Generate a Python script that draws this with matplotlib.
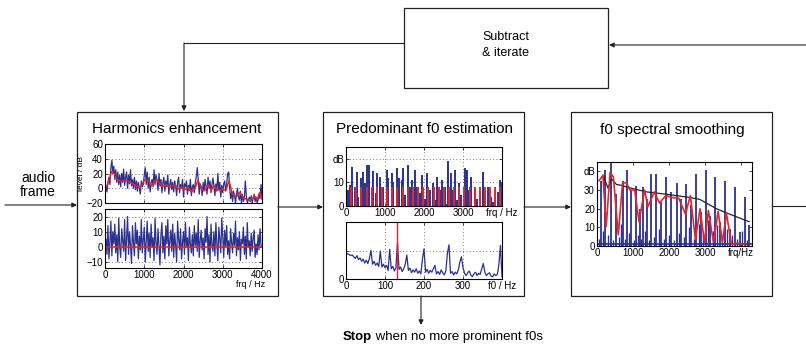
import matplotlib.pyplot as plt
import numpy as np
from matplotlib.patches import Rectangle

plt.rcParams['font.family'] = ['Liberation Sans', 'DejaVu Sans']

BLUE = '#2b3190'
RED = '#e8232a'

# ---- harmonics enhancement: spectrum (dB) at 25 Hz steps, 0..4000 Hz
he_spec = [
    -3, 2, -5, 8, 15, 5, 28, 38, 20, 30,
    12, 25, 8, 22, 5, 18, 2, 20, 8, 26,
    4, 15, 22, 0, 18, 6, 25, 3, 12, 0,
    15, -2, 10, -4, 8, 0, -8, 10, 2, 5,
    18, 28, 5, 22, 0, 15, -5, 8, 12, 2,
    25, 5, 18, 10, -3, 20, 3, 12, -6, 8,
    15, -4, 10, 2, 18, -8, 5, 12, -2, 8,
    -5, 10, 3, -10, 8, 15, -6, 5, 0, 12,
    -12, 6, 2, 10, -8, 4, -3, 12, -10, 2,
    5, -6, 8, 15, 28, 12, -8, 6, 2, -10,
    8, -4, 12, 3, -8, 15, 0, 10, -6, 5,
    14, 2, -10, 6, -4, 20, -2, 8, -12, 4,
    -6, 6, 10, -4, 5, 20, 22, 2, -14, -5,
    -18, -4, -10, -20, -8, 0, -12, -16, -4, -20,
    -8, -18, -14, 10, -10, -20, -16, -12, -18, -10,
    -20, -14, -8, -18, -12, -20, -16, -8, -14, 5,
    -15,
]
# smoothed envelope (red)
he_env_f = [0, 60, 110, 170, 250, 300, 380, 550, 680, 800, 890, 1020, 1100, 1180,
            1310, 1400, 1480, 1570, 1650, 1780, 1860, 1950, 2030, 2120, 2200, 2290,
            2370, 2460, 2540, 2630, 2710, 2770, 2840, 2920, 3000, 3080, 3160, 3250,
            3350, 3430, 3520, 3600, 3720, 3810, 3880, 3940, 4000]
he_env_db = [-1, 5, 12, 23, 19, 12, 10, 10, 7.5, 3, 1, 12, 10, 3,
             12, 6.7, 2, 5, 1, 5, -1, 2, -2, 1, -5, -1,
             11, -1, -3, 5, -3, 4, -1, -3, -1, -3, 10, -8,
             -11, -6, -12, -15, -15.5, -11, -15, -6, -12]
# residual after enhancement
he_resid = [
    -2, 5, -5, 14, -8, 3, 17, -6, 10, 2,
    15, -4, 8, -10, 19, 0, -7, 12, 4, -3,
    18, -9, 6, 20, -5, 10, 1, -11, 14, 3,
    -6, 16, 2, 11, -8, 7, -2, 18, -4, 5,
    13, -10, 4, 17, -3, 9, -7, 15, 0, 6,
    -9, 19, 3, -5, 12, 1, -12, 8, 16, -4,
    7, -8, 14, 2, 18, -6, 4, 11, -3, 15,
    -7, 9, 1, -10, 17, 5, -2, 12, -8, 3,
    10, -5, 16, 0, 6, -9, 13, 2, -4, 8,
    -6, 14, 1, 9, -3, 18, -7, 4, 11, -2,
    6, -8, 12, 3, 20, -5, 8, -10, 15, 1,
    -3, 10, -6, 16, 2, -9, 13, 5, -4, 19,
    7, -7, 11, 0, 14, -5, 4, -8, 12, 3,
    -4, 9, 1, 17, -6, 6, -2, 10, -9, 5,
    2, 13, -5, 7, -8, 16, 0, 4, -6, 9,
    -3, 6, 11, -7, 2, -5, 8, -2, 12, 1,
    0,
]

# ---- predominant f0 estimation
pf_peak_f = [60, 102, 162, 230, 273, 315, 375, 426, 486, 529, 588, 656, 699, 759, 801,
             870, 912, 955, 1040, 1083, 1168, 1211, 1296, 1355, 1424, 1466, 1509, 1577,
             1637, 1697, 1765, 1833, 1893, 1961, 2020, 2089, 2148, 2234, 2293, 2345,
             2404, 2472, 2532, 2575, 2626, 2685, 2745, 2788, 2847, 2899, 2958, 3061,
             3112, 3154, 3214, 3299, 3359, 3427, 3512, 3572, 3640, 3725, 3768, 3828,
             3896, 3938, 3981]
pf_peak_db = [6.7, 9, 16.7, 8, 14.6, 3.9, 11.7, 14.6, 9.6, 17.4, 17.4, 8, 15, 5.3, 13.9,
              12.4, 5.3, 8.1, 15.3, 11.7, 13.9, 10.3, 16, 11.7, 11, 16, 4.6, 17.4,
              8.1, 11, 15.3, 8.1, 5.3, 13, 3.1, 13.9, 6.7, 9.6, 2.4, 12.4,
              6.7, 11, 8.1, 1, 18.9, 13.9, 6.7, 15.3, 2.4, 9.6, 4.6, 16,
              15.3, 6.7, 12.4, 8.1, 3.1, 5.3, 14.6, 4.6, 8.1, 3.9, 1.7, 3.9,
              6, 11, 9.6]
pf_harm_f = [132, 264, 396, 528, 660, 792, 924, 1056, 1188, 1320, 1452, 1584, 1716,
             1848, 1980, 2112, 2244, 2376, 2508, 2640, 2772, 2904, 3036, 3168, 3300,
             3432, 3564, 3696, 3828, 3960]
pf_harm_db = 8
# salience over f0 candidates, 4 Hz steps 0..400 Hz
pf_sal = [
    .45, .44, .43, .41, .42, .39, .36, .41, .34, .37,
    .31, .35, .28, .33, .27, .36, .50, .26, .31, .24,
    .28, .22, .49, .21, .26, .20, .24, .15, .52, .18,
    .22, .14, .20, .65, .17, .21, .13, .18, .26, .42,
    .15, .19, .11, .16, .12, .18, .10, .14, .09, .35,
    .53, .12, .17, .10, .15, .12, .18, .24, .09, .13,
    .08, .16, .11, .07, .14, .45, .60, .10, .13, .07,
    .12, .09, .16, .30, .39, .20, .10, .06, .11, .14,
    .07, .04, .09, .12, .06, .10, .08, .18, .27, .12,
    .06, .09, .11, .05, .04, .09, .06, .08, .25, .59,
    .04,
]
pf_f0 = 132

# ---- f0 spectral smoothing
sm_peak_f = [120, 231, 380, 519, 722, 833, 954, 1093, 1185, 1278, 1389, 1509, 1648,
             1787, 1926, 2065, 2222, 2343, 2482, 2620, 2760, 2898, 3010, 3148, 3269,
             3408, 3547, 3686, 3824, 3963, 4102, 4222]
sm_peak_db = [35, 40.5, 44.6, 28, 35, 40.5, 30, 32, 20, 31.6, 25, 38.7, 38.7,
              23.5, 37, 29, 34, 25, 33, 22, 38.7, 18, 40.5, 16, 37,
              13, 35, 9, 31.6, 7.5, 26, 11]
sm_side_f = [60, 180, 300, 450, 600, 660, 780, 900, 1020, 1140, 1230, 1340, 1450,
             1580, 1710, 1850, 1990, 2140, 2280, 2410, 2550, 2690, 2830, 2950, 3080,
             3210, 3340, 3480, 3610, 3750, 3890, 4030, 4160]
sm_side_db = [4, 8, 6, 3, 5, 12, 4, 7, 3, 6, 4, 8, 3,
              5, 9, 4, 6, 3, 7, 5, 10, 4, 12, 6, 14,
              8, 11, 5, 9, 6, 4, 8, 3]
sm_red_f = [55, 164, 255, 364, 455, 590, 710, 820, 910, 1045, 1165, 1320, 1410, 1590,
            1730, 1910, 2090, 2270, 2455, 2590, 2730, 2860, 2980, 3090, 3230, 3360,
            3480, 3590, 3730, 3910, 4090]
sm_red_db = [35, 37.7, 10.5, 39.5, 37, 6, 34, 33.7, 30, 30, 13, 30, 21, 29,
             23, 27, 26, 25.5, 17, 27, 3.5, 20, 2, 19, 2, 18.5,
             2, 17.5, 1, 1.5, 1]
sm_env_f = [167, 305, 400, 537, 676, 1000, 1370, 2020, 2570, 2850, 3310, 3690, 4220]
sm_env_db = [38, 31, 36, 33, 32.5, 30.7, 29, 27.5, 26, 25, 20, 17, 13]

W, H = 806, 348
fig = plt.figure(figsize=(W / 100, H / 100), dpi=100)
bg = fig.add_axes([0, 0, 1, 1])
bg.set_xlim(0, W)
bg.set_ylim(H, 0)
bg.axis('off')


def px_axes(x0, y0, x1, y1):
    return fig.add_axes([x0 / W, 1 - y1 / H, (x1 - x0) / W, (y1 - y0) / H])


def style(ax, grid=True):
    ax.tick_params(direction='in', length=2, width=0.5, labelsize=7, pad=1.5,
                   top=True, right=True)
    for s in ax.spines.values():
        s.set_linewidth(0.8)
    if grid:
        ax.grid(True, linestyle=(0, (1, 3)), color='#555555', linewidth=0.6)


# boxes
for x0, x1 in [(77, 278), (323, 524), (571, 772)]:
    bg.add_patch(Rectangle((x0, 112), x1 - x0, 184, fill=False, lw=0.9, ec='#222222'))
bg.add_patch(Rectangle((404, 8), 204, 80, fill=False, lw=0.9, ec='#222222'))

arrow = dict(arrowstyle='-|>', color='#222222', lw=0.8, mutation_scale=7,
             shrinkA=0, shrinkB=0)
bg.annotate('', xy=(77, 205), xytext=(5, 205), arrowprops=arrow)
bg.annotate('', xy=(323, 207), xytext=(278, 207), arrowprops=arrow)
bg.annotate('', xy=(571, 207), xytext=(524, 207), arrowprops=arrow)
bg.plot([772, 806], [206, 206], color='#222222', lw=0.8)
bg.plot([404, 184], [43, 43], color='#222222', lw=0.8)
bg.annotate('', xy=(184, 111), xytext=(184, 43), arrowprops=arrow)
bg.annotate('', xy=(609, 45), xytext=(806, 45), arrowprops=arrow)
bg.annotate('', xy=(421, 325), xytext=(421, 296), arrowprops=arrow)

bg.text(38, 185, 'audio\nframe', ha='center', va='center', fontsize=10, linespacing=1.0)
bg.text(506, 45, 'Subtract\n& iterate', ha='center', va='center', fontsize=9,
        linespacing=1.45)
t1 = bg.text(343, 337, 'Stop', ha='left', va='center', fontsize=9.5, fontweight='bold')
bg.annotate(' when no more prominent f0s', xy=(1, 0.5), xycoords=t1, ha='left',
            va='center', fontsize=9.5)

bg.text(177, 129, 'Harmonics enhancement', ha='center', va='center', fontsize=11)
bg.text(424, 129, 'Predominant f0 estimation', ha='center', va='center', fontsize=11)
bg.text(672, 130, 'f0 spectral smoothing', ha='center', va='center', fontsize=11)

freq = np.linspace(0, 4000, len(he_spec))
fticks = [0, 1000, 2000, 3000, 4000]

# harmonics enhancement - top
ax = px_axes(105, 144, 262, 203)
ax.plot(freq, he_spec, color=BLUE, lw=0.9)
ax.plot(he_env_f, he_env_db, color=RED, lw=1.1)
ax.set_xlim(0, 4000)
ax.set_ylim(-20, 60)
ax.set_yticks([-20, 0, 20, 40, 60])
ax.set_xticks(fticks)
ax.set_xticklabels([])
ax.set_ylabel('level / dB', fontsize=6, labelpad=1)
style(ax)

# harmonics enhancement - bottom
ax = px_axes(105, 209, 262, 268)
ax.plot(freq, he_resid, color=BLUE, lw=0.9)
ax.plot([0, 4000], [0, 0], color=RED, lw=1.1)
ax.set_xlim(0, 4000)
ax.set_ylim(-14, 25)
ax.set_yticks([-10, 0, 10, 20])
ax.set_xticks(fticks)
ax.text(0.93, -0.28, 'frq / Hz', transform=ax.transAxes, ha='center', va='center',
        fontsize=6.5)
style(ax)

# predominant f0 - top
ax = px_axes(346, 147, 502, 206)
ax.vlines(pf_peak_f, 0, pf_peak_db, color=BLUE, lw=1.4)
ax.vlines(pf_harm_f, 0, pf_harm_db, color=RED, lw=1.4)
ax.set_xlim(0, 4000)
ax.set_ylim(0, 25)
ax.set_xticks(fticks)
ax.set_xticklabels(['0', '1000', '2000', '3000', 'frq / Hz'])
ax.set_yticks([0, 10, 20])
ax.set_yticklabels(['0', '10', 'dB'])
style(ax)

# predominant f0 - bottom
ax = px_axes(346, 222, 502, 279)
f0_axis = np.linspace(0, 400, len(pf_sal))
ax.plot(f0_axis, pf_sal, color=BLUE, lw=0.9)
ax.axvline(pf_f0, color=RED, lw=1.0)
ax.set_xlim(0, 400)
ax.set_ylim(0, 1)
ax.set_xticks([0, 100, 200, 300, 400])
ax.set_xticklabels(['0', '100', '200', '300', 'f0 / Hz'])
ax.set_yticks([0, 0.5])
ax.set_yticklabels(['0', ''])
style(ax)

# spectral smoothing
ax = px_axes(597, 162, 752, 246)
ax.vlines(sm_peak_f, 0, sm_peak_db, color=BLUE, lw=1.3)
ax.vlines(sm_side_f, 0, sm_side_db, color=BLUE, lw=1.0)
ax.plot([0, 4300], [1.2, 1.2], color=BLUE, lw=1.2)
ax.plot(sm_env_f, sm_env_db, color='#222222', lw=0.9)
ax.plot(sm_red_f, sm_red_db, color=RED, lw=1.2)
ax.set_xlim(0, 4300)
ax.set_ylim(0, 45)
ax.set_xticks(fticks)
ax.set_xticklabels(['0', '1000', '2000', '3000', 'frq/Hz'])
ax.set_yticks([0, 10, 20, 30, 40])
ax.set_yticklabels(['0', '10', '20', '30', 'dB'])
style(ax, grid=False)

fig.savefig('out.png', dpi=100)
